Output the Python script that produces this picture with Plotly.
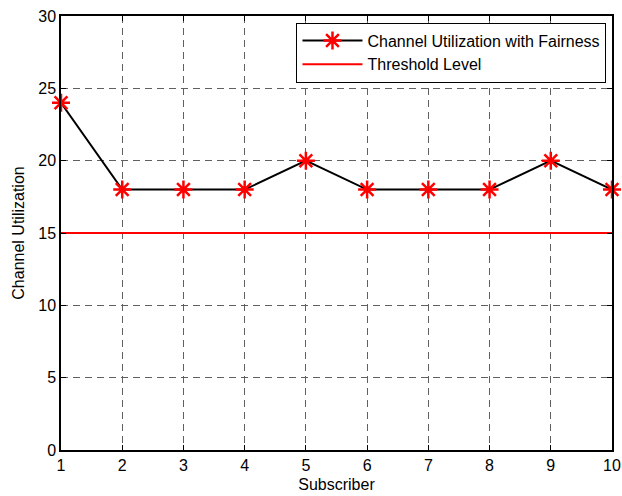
import plotly.graph_objects as go

subscribers = [1, 2, 3, 4, 5, 6, 7, 8, 9, 10]
utilization = [24, 18, 18, 18, 20, 18, 18, 18, 20, 18]
threshold = [15] * len(subscribers)
x_ticks = list(range(1, 11))
y_ticks = [0, 5, 10, 15, 20, 25, 30]

FONT = "Liberation Sans, Arial, sans-serif"
FS = 16

fig = go.Figure()
fig.add_trace(go.Scatter(
    x=subscribers, y=utilization, mode="lines+markers",
    name="Channel Utilization with Fairness",
    line=dict(color="black", width=2),
    marker=dict(symbol="asterisk-open", size=15, color="red",
                line=dict(color="red", width=2.5)),
    cliponaxis=False,
))
fig.add_trace(go.Scatter(
    x=subscribers, y=threshold, mode="lines",
    name="Threshold Level",
    line=dict(color="red", width=2),
))

axis_common = dict(
    showline=True, linecolor="black", linewidth=1.5, mirror="ticks",
    ticks="inside", ticklen=5, tickcolor="black",
    showgrid=True, gridcolor="#606060", griddash="7px,5px", gridwidth=1,
    zeroline=False,
    tickfont=dict(family=FONT, size=FS, color="black"),
)
fig.update_xaxes(range=[1, 10], tickvals=x_ticks,
                 title=dict(text="Subscriber", standoff=6,
                            font=dict(family=FONT, size=FS, color="black")),
                 **axis_common)
fig.update_yaxes(range=[0, 30], tickvals=y_ticks,
                 title=dict(text="Channel Utilization", standoff=10,
                            font=dict(family=FONT, size=FS, color="black")),
                 **axis_common)

fig.update_layout(
    width=622, height=496,
    margin=dict(l=61, r=10, t=16, b=46, autoexpand=False),
    plot_bgcolor="white", paper_bgcolor="white",
    legend=dict(x=0.99, y=0.985, xanchor="right", yanchor="top",
                bordercolor="black", borderwidth=1, bgcolor="white",
                font=dict(family=FONT, size=FS, color="black"),
                itemwidth=60, tracegroupgap=0),
    showlegend=True,
)
fig.write_html("out.html", post_script="document.body.style.margin='0';",
               config={"displayModeBar": False})
